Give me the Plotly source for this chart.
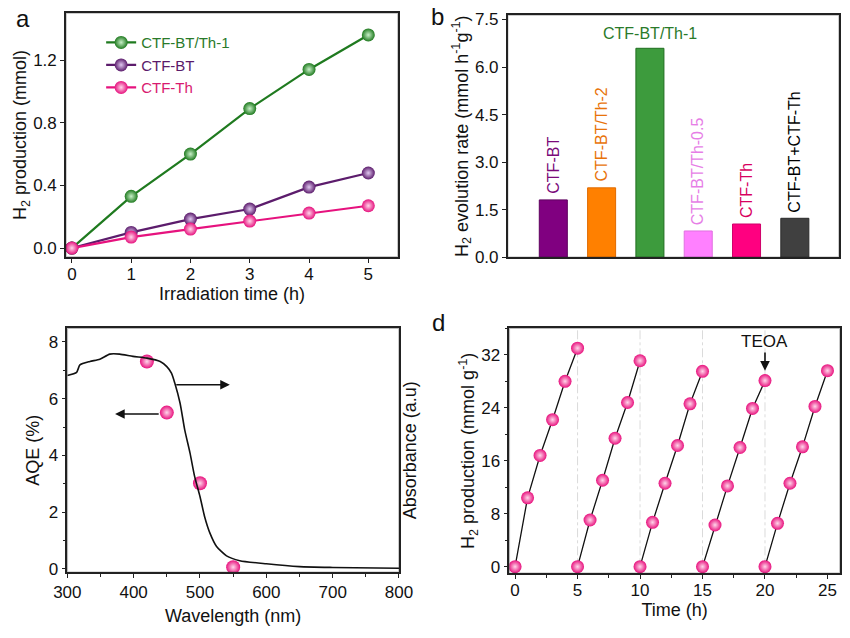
import plotly.graph_objects as go

FONT = "Liberation Sans, Arial, sans-serif"

# ---------------- Panel a data ----------------
time_a = [0, 1, 2, 3, 4, 5]
h2_bt_th1 = [0, 0.33, 0.60, 0.89, 1.14, 1.36]
h2_bt = [0, 0.10, 0.185, 0.249, 0.389, 0.479]
h2_th = [0, 0.07, 0.121, 0.172, 0.223, 0.27]

# ---------------- Panel b data ----------------
samples_b = ["CTF-BT", "CTF-BT/Th-2", "CTF-BT/Th-1", "CTF-BT/Th-0.5", "CTF-Th", "CTF-BT+CTF-Th"]
rates_b = [1.81, 2.19, 6.59, 0.83, 1.05, 1.23]
bar_colors = ["#800080", "#ff8000", "#3d9b3d", "#ff80ff", "#ff0080", "#404040"]
bar_edges = ["#5e005e", "#e06a00", "#1f6e1f", "#e070e0", "#d0006a", "#2a2a2a"]
label_colors = ["#7a0a7a", "#e8730a", "#2a7a2a", "#e67ee6", "#d8005f", "#000000"]

# ---------------- Panel c data ----------------
aqe_wl = [420, 450, 500, 550]
aqe_val = [7.31, 5.51, 3.02, 0.06]
abs_wl = [300, 314, 319, 334, 349, 364, 379, 399, 420, 440, 450, 457, 462, 470, 477,
          485, 492, 500, 507, 515, 525, 540, 560, 600, 650, 700, 800]
abs_val = [6.82, 6.93, 7.19, 7.31, 7.39, 7.57, 7.57, 7.49, 7.43, 7.31, 7.13, 6.9, 6.55,
           5.84, 4.9, 4.08, 3.25, 2.55, 1.84, 1.26, 0.79, 0.46, 0.29, 0.18, 0.08, 0.05, 0.02]

# ---------------- Panel d data ----------------
cycle_times = [
    [0, 1, 2, 3, 4, 5],
    [5, 6, 7, 8, 9, 10],
    [10, 11, 12, 13, 14, 15],
    [15, 16, 17, 18, 19, 20],
    [20, 21, 22, 23, 24, 25],
]
cycle_h2 = [
    [0, 10.4, 16.8, 22.2, 28.0, 33.0],
    [0, 7.05, 13.05, 19.4, 24.8, 31.1],
    [0, 6.7, 12.6, 18.3, 24.6, 29.5],
    [0, 6.3, 12.2, 18.0, 23.9, 28.1],
    [0, 6.55, 12.6, 18.1, 24.2, 29.6],
]
cycle_breaks = [5, 10, 15, 20]

PINK = "#e8127e"
PINK_HI = "#ffd6ea"


def sphere(color, hi, size=13):
    return dict(size=size, color=color, gradient=dict(type="radial", color=hi), line=dict(width=0))


fig = go.Figure()

# Panel a
series_a = [
    ("CTF-BT/Th-1", h2_bt_th1, "#1f7a1f", "#2a7a2a", "#c8f0c8"),
    ("CTF-BT", h2_bt, "#5c1c6c", "#5a1a6a", "#e0c8f0"),
    ("CTF-Th", h2_th, "#e6127e", "#d81a70", PINK_HI),
]
for name, vals, col, tcol, hi in series_a:
    fig.add_trace(go.Scatter(
        x=time_a, y=vals, mode="lines+markers", xaxis="x", yaxis="y",
        name=f'<span style="color:{tcol}">{name}</span>',
        line=dict(color=col, width=2.2), marker=sphere(col, hi, 13)))

# Panel b
fig.add_trace(go.Bar(
    x=samples_b, y=rates_b, xaxis="x2", yaxis="y2", width=0.58, showlegend=False,
    marker=dict(color=bar_colors, line=dict(color=bar_edges, width=1))))

# Panel c
fig.add_trace(go.Scatter(
    x=abs_wl, y=abs_val, mode="lines", xaxis="x3", yaxis="y5", showlegend=False,
    line=dict(color="#111", width=1.6, shape="spline", smoothing=0.6)))
fig.add_trace(go.Scatter(
    x=aqe_wl, y=aqe_val, mode="markers", xaxis="x3", yaxis="y3", showlegend=False,
    marker=sphere(PINK, PINK_HI, 14)))

# Panel d
for tt, vv in zip(cycle_times, cycle_h2):
    fig.add_trace(go.Scatter(
        x=tt, y=vv, mode="lines+markers", xaxis="x4", yaxis="y4", showlegend=False,
        line=dict(color="#111", width=1.3), marker=sphere(PINK, PINK_HI, 13)))

for xb in cycle_breaks:
    fig.add_shape(type="line", xref="x4", yref="y4 domain", x0=xb, x1=xb, y0=0, y1=1,
                  line=dict(color="#888", width=1, dash="dashdot"), layer="below")

# frames around each panel
for xr, yr in [("x", "y"), ("x2", "y2"), ("x3", "y3"), ("x4", "y4")]:
    fig.add_shape(type="rect", xref=f"{xr} domain", yref=f"{yr} domain", x0=0, x1=1, y0=0, y1=1,
                  line=dict(color="#222", width=1.5), fillcolor="rgba(0,0,0,0)", layer="above")

title_font = dict(size=18, color="#111", family=FONT)

fig.update_layout(
    template="simple_white",
    width=850, height=638,
    margin=dict(l=0, r=0, t=0, b=0, autoexpand=False),
    paper_bgcolor="white", plot_bgcolor="white",
    font=dict(family=FONT, size=16, color="#111"),
    showlegend=True,
    legend=dict(x=0.119, y=0.959, xanchor="left", yanchor="top", bgcolor="rgba(0,0,0,0)",
                font=dict(size=15), tracegroupgap=0, itemwidth=30),
    xaxis=dict(domain=[0.0776, 0.4682], anchor="y", range=[-0.1, 5.5],
               tickvals=time_a, title=dict(text="Irradiation time (h)", font=title_font, standoff=0)),
    yaxis=dict(domain=[0.5972, 0.9796], anchor="x", range=[-0.057, 1.5],
               tickvals=[0, 0.4, 0.8, 1.2], tickformat=".1f",
               title=dict(text="H<sub>2</sub> production (mmol)", font=title_font, standoff=0)),
    xaxis2=dict(domain=[0.5973, 0.9871], anchor="y2", range=[-0.944, 5.915]),
    yaxis2=dict(domain=[0.5967, 0.9765], anchor="x2", range=[0, 7.64],
                tick0=0, dtick=1.5, tickformat=".1f",
                title=dict(text="H<sub>2</sub> evolution rate (mmol h<sup>-1</sup>g<sup>-1</sup>)",
                           font=title_font, standoff=2)),
    xaxis3=dict(domain=[0.0792, 0.4694], anchor="y3", range=[300, 800], tick0=300, dtick=100,
                title=dict(text="Wavelength (nm)", font=title_font, standoff=8)),
    yaxis3=dict(domain=[0.103, 0.4854], anchor="x3", range=[-0.12, 8.48], tick0=0, dtick=2,
                title=dict(text="AQE (%)", font=title_font, standoff=4)),
    yaxis5=dict(overlaying="y3", side="right", anchor="x3", range=[-0.12, 8.48]),
    xaxis4=dict(domain=[0.5992, 0.9882], anchor="y4", range=[-0.46, 26.0], tick0=0, dtick=5,
                title=dict(text="Time (h)", font=title_font, standoff=0)),
    yaxis4=dict(domain=[0.1014, 0.4854], anchor="x4", range=[-1, 36], tick0=0, dtick=8,
                title=dict(text="H<sub>2</sub> production (mmol g<sup>-1</sup>)", font=title_font, standoff=0)),
)

# common axis styling
axis_style = dict(showline=True, linecolor="#222", linewidth=1.5, mirror=True,
                  ticks="outside", ticklen=4, tickwidth=1.2, tickcolor="#222",
                  showgrid=False, zeroline=False, automargin=False,
                  tickfont=dict(size=17, color="#111", family=FONT))
fig.update_xaxes(**axis_style)
fig.update_yaxes(**axis_style)

# per-axis tweaks
fig.update_layout(
    xaxis=dict(ticklabelstandoff=-3),
    xaxis4=dict(ticklabelstandoff=-3,
                minor=dict(dtick=2.5, ticks="outside", ticklen=3, tickcolor="#222")),
    xaxis2=dict(showticklabels=False, ticks=""),
    xaxis3=dict(minor=dict(dtick=50, ticks="outside", ticklen=3, tickcolor="#222")),
    yaxis3=dict(minor=dict(dtick=1, ticks="outside", ticklen=3, tickcolor="#222")),
    yaxis4=dict(minor=dict(dtick=4, ticks="outside", ticklen=3, tickcolor="#222")),
    yaxis5=dict(showticklabels=False, ticks="", showline=False, mirror=False,
                title=dict(text="Absorbance (a.u)", font=title_font, standoff=4)),
)

annotations = []
# panel letters
for letter, px, py in [("a", 23, 19), ("b", 437, 17), ("d", 438, 322)]:
    annotations.append(dict(text=letter, x=px / 850, y=1 - py / 638, xref="paper", yref="paper",
                            showarrow=False, font=dict(size=24, color="#111", family=FONT),
                            xanchor="center", yanchor="middle"))
# bar labels
for s, v, c in zip(samples_b, rates_b, label_colors):
    if s == "CTF-BT/Th-1":
        annotations.append(dict(text=s, x=s, y=v, xref="x2", yref="y2", showarrow=False,
                                xanchor="center", yanchor="bottom", yshift=4,
                                font=dict(size=16, color=c, family=FONT)))
    else:
        annotations.append(dict(text=s, x=s, y=v, xref="x2", yref="y2", showarrow=False,
                                textangle=-90, xanchor="center", yanchor="bottom", yshift=4,
                                font=dict(size=16, color=c, family=FONT)))
# panel c arrows
annotations.append(dict(x=545, y=6.49, ax=462, ay=6.49, xref="x3", yref="y3", axref="x3", ayref="y3",
                        text="", showarrow=True, arrowhead=2, arrowsize=1.2, arrowwidth=1.6,
                        arrowcolor="#111"))
annotations.append(dict(x=372, y=5.46, ax=440, ay=5.46, xref="x3", yref="y3", axref="x3", ayref="y3",
                        text="", showarrow=True, arrowhead=2, arrowsize=1.2, arrowwidth=1.6,
                        arrowcolor="#111"))
# TEOA
annotations.append(dict(x=20, y=29.6, ax=20, ay=34.0, xref="x4", yref="y4", axref="x4", ayref="y4",
                        text="TEOA", showarrow=True, arrowhead=2, arrowsize=1.2, arrowwidth=1.6,
                        arrowcolor="#111", font=dict(size=17, color="#111", family=FONT)))
fig.update_layout(annotations=annotations)

fig.write_html("out.html", config={"displayModeBar": False},
               post_script="document.body.style.margin='0';")
